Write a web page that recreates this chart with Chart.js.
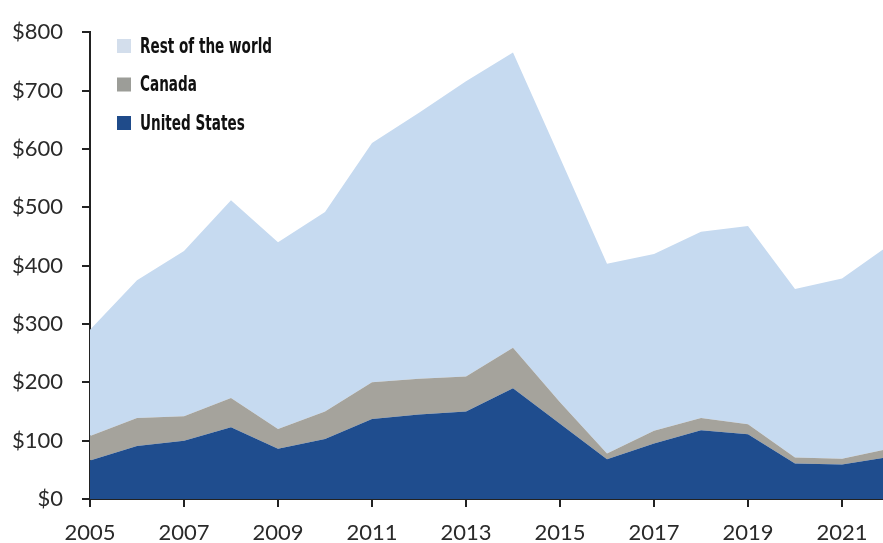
<!DOCTYPE html>
<html>
<head>
<meta charset="utf-8">
<script src="https://cdn.jsdelivr.net/npm/chart.js@4/dist/chart.umd.min.js"></script>
<style>
  html, body { margin: 0; padding: 0; background: #fff; overflow: hidden; }
  #wrap { position: absolute; left: 0; top: 0; width: 890px; height: 543px; }
</style>
</head>
<body>
<div id="wrap"><canvas id="myChart" width="890" height="543"></canvas></div>
<script>
const years = ['2005', '2006', '2007', '2008', '2009', '2010', '2011', '2012', '2013',
  '2014', '2015', '2016', '2017', '2018', '2019', '2020', '2021', '2022'];
const unitedStates = [66, 91, 100, 123, 86, 103, 137, 145, 150, 190, 129, 68, 95, 118, 111, 61, 59, 72];
const canada = [42, 48, 42, 50, 34, 47, 63, 61, 60, 69, 37, 10, 22, 21, 17, 10, 10, 14];
const restOfWorld = [182, 236, 283, 339, 320, 342, 410, 456, 506, 506, 419, 325, 303, 319, 340, 289, 309, 349];

const dark = '#222';

// legend drawn as a column inside the plot, top entry = top layer
const columnLegend = {
  id: 'columnLegend',
  afterDraw(chart) {
    const { ctx } = chart;
    const items = chart.data.datasets.slice().reverse();
    ctx.save();
    ctx.font = 'bold 22px "DejaVu Sans Condensed"';
    const sx = 132 / ctx.measureText('Rest of the world').width;
    items.forEach((ds, i) => {
      const y = 46 + i * 38.5;
      ctx.fillStyle = ds.legendColor;
      ctx.fillRect(117, y - 7, 14, 14);
      ctx.save();
      ctx.translate(140, y + 1);
      ctx.scale(sx, 1);
      ctx.fillStyle = '#111';
      ctx.textBaseline = 'middle';
      ctx.fillText(ds.label, 0, 0);
      ctx.restore();
    });
    ctx.restore();
  },
};

const ctx = document.getElementById('myChart');
const chart = new Chart(ctx, {
  type: 'line',
  data: {
    labels: years,
    datasets: [
      {
        label: 'United States',
        data: unitedStates,
        backgroundColor: '#1f4d8e',
        legendColor: '#1f4b8a',
        fill: 'origin',
      },
      {
        label: 'Canada',
        data: canada,
        backgroundColor: '#a5a39c',
        legendColor: '#9c9d98',
        fill: '-1',
      },
      {
        label: 'Rest of the world',
        data: restOfWorld,
        backgroundColor: '#c6daf0',
        legendColor: '#d3deec',
        fill: '-1',
      },
    ],
  },
  options: {
    responsive: false,
    animation: false,
    layout: { padding: { top: 26, right: 1, left: 0, bottom: 0 } },
    elements: {
      line: { borderWidth: 0, tension: 0 },
      point: { radius: 0 },
    },
    plugins: {
      legend: { display: false },
      tooltip: { enabled: false },
    },
    scales: {
      x: {
        offset: false,
        border: { display: true, color: dark, width: 2 },
        grid: {
          drawOnChartArea: false,
          drawTicks: true,
          tickLength: 8,
          lineWidth: 2,
          color: (c) => (c.index % 2 === 0 ? dark : 'rgba(0,0,0,0)'),
        },
        ticks: {
          autoSkip: false,
          maxRotation: 0,
          padding: 13,
          color: '#2a2a2a',
          font: { family: 'Lato', size: 22 },
          callback: (v, i) => (i % 2 === 0 ? years[i] : ''),
        },
        afterFit: (scale) => {
          scale.height = 44;
          scale.paddingLeft = 0;
          scale.paddingRight = 0;
        },
      },
      y: {
        stacked: true,
        min: 0,
        max: 800,
        border: { display: true, color: dark, width: 2 },
        grid: {
          drawOnChartArea: false,
          drawTicks: true,
          tickLength: 8,
          lineWidth: 2,
          color: dark,
        },
        ticks: {
          stepSize: 100,
          padding: 19,
          color: '#2a2a2a',
          font: { family: 'Lato', size: 22 },
          callback: (v) => '$' + v,
        },
        afterFit: (scale) => { scale.width = 90; },
      },
    },
  },
  plugins: [columnLegend],
});
</script>
</body>
</html>
